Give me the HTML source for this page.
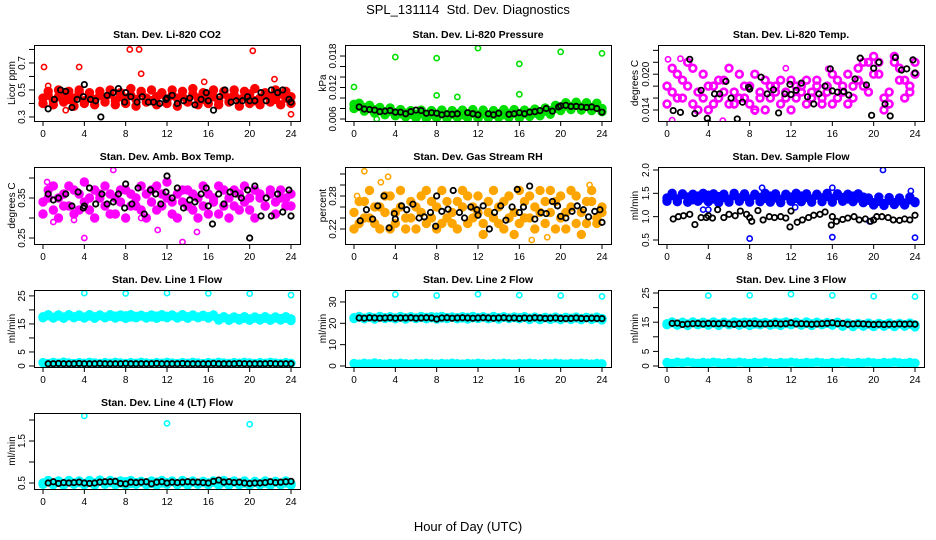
<!DOCTYPE html>
<html><head><meta charset="utf-8">
<style>
html,body{margin:0;padding:0;background:#fff;}
svg{display:block;font-family:"Liberation Sans",Arial,sans-serif;}
</style></head>
<body>
<svg id="chart" width="936" height="540" viewBox="0 0 936 540" xmlns="http://www.w3.org/2000/svg">
<rect width="936" height="540" fill="#fff"/>
<text x="468" y="14" text-anchor="middle" font-size="13">SPL_131114&#160; Std. Dev. Diagnostics</text>
<text x="468" y="531" text-anchor="middle" font-size="13">Hour of Day (UTC)</text>
</svg>
<script>
const bandHours=[0,0.5,1,1.5,2,2.5,3,3.5,4,4.5,5,5.5,6,6.5,7,7.5,8,8.5,9,9.5,10,10.5,11,11.5,12,12.5,13,13.5,14,14.5,15,15.5,16,16.5,17,17.5,18,18.5,19,19.5,20,20.5,21,21.5,22,22.5,23,23.5,24];
const blackHours=[0.5,1,1.5,2,2.5,3,3.5,4,4.5,5,5.5,6,6.5,7,7.5,8,8.5,9,9.5,10,10.5,11,11.5,12,12.5,13,13.5,14,14.5,15,15.5,16,16.5,17,17.5,18,18.5,19,19.5,20,20.5,21,21.5,22,22.5,23,23.5,24];
const xTicks=[0,4,8,12,16,20,24];

// CO2
const co2A=[0.44,0.46,0.42,0.45,0.47,0.43,0.44,0.48,0.42,0.45,0.43,0.46,0.44,0.47,0.42,0.45,0.44,0.46,0.43,0.48,0.44,0.42,0.45,0.47,0.43,0.46,0.44,0.45,0.42,0.47,0.44,0.43,0.46,0.45,0.42,0.47,0.44,0.46,0.43,0.45,0.47,0.42,0.44,0.46,0.45,0.43,0.47,0.44,0.45];
const co2B=[0.40,0.49,0.39,0.50,0.41,0.49,0.38,0.50,0.40,0.48,0.39,0.49,0.41,0.50,0.39,0.48,0.40,0.51,0.38,0.49,0.41,0.50,0.39,0.48,0.40,0.50,0.38,0.49,0.41,0.51,0.39,0.48,0.40,0.50,0.39,0.49,0.41,0.50,0.38,0.49,0.40,0.51,0.39,0.48,0.41,0.50,0.39,0.49,0.40];
const co2OutX=[0.1,3.5,8.4,9.3,9.5,20.3,22.4,15.6,0.5,24,2.2];
const co2OutY=[0.67,0.67,0.8,0.8,0.62,0.79,0.58,0.56,0.53,0.32,0.35];
const co2BlkX=[0.5,1.1,1.7,2.2,2.8,3.3,3.9,4,4.6,5.1,5.6,6.2,6.8,7.3,7.9,8,8.5,9.1,9.6,10.2,10.7,11.3,11.9,12,12.5,13,13.6,14.2,14.7,15.3,15.8,16,16.5,17.1,17.6,18.2,18.7,19.3,19.8,20,20.5,21.1,21.6,22.1,22.7,23.2,23.8,24];
const co2BlkY=[0.36,0.43,0.5,0.49,0.37,0.43,0.45,0.54,0.43,0.42,0.3,0.46,0.48,0.51,0.41,0.48,0.45,0.41,0.45,0.41,0.41,0.40,0.43,0.44,0.46,0.40,0.42,0.44,0.39,0.43,0.48,0.42,0.35,0.45,0.5,0.41,0.42,0.42,0.45,0.42,0.42,0.48,0.42,0.5,0.48,0.5,0.43,0.41];

// Pressure
const prA=[0.0088,0.0084,0.0082,0.0080,0.0078,0.0076,0.0074,0.0075,0.0072,0.0070,0.0071,0.0069,0.0068,0.0070,0.0067,0.0069,0.0068,0.0070,0.0067,0.0069,0.0070,0.0068,0.0069,0.0071,0.0068,0.0070,0.0067,0.0069,0.0070,0.0068,0.0070,0.0071,0.0069,0.0070,0.0072,0.0071,0.0073,0.0075,0.0076,0.0080,0.0083,0.0085,0.0084,0.0086,0.0083,0.0085,0.0082,0.0084,0.0080];
const prB=[0.0080,0.0090,0.0075,0.0086,0.0071,0.0082,0.0068,0.0081,0.0066,0.0078,0.0064,0.0076,0.0062,0.0077,0.0061,0.0076,0.0062,0.0077,0.0061,0.0076,0.0063,0.0077,0.0062,0.0078,0.0061,0.0077,0.0062,0.0076,0.0063,0.0078,0.0063,0.0078,0.0062,0.0077,0.0065,0.0079,0.0066,0.0081,0.0069,0.0086,0.0076,0.0091,0.0078,0.0092,0.0077,0.0091,0.0076,0.0090,0.0074];
const prOutX=[0,4,8,12,16,20,24,8,10,16,2.2];
const prOutY=[0.0121,0.0178,0.0176,0.0195,0.0165,0.0188,0.0185,0.0105,0.0102,0.0107,0.0060];
const prBlkX=[0.5,1,1.5,2,2.5,3,3.5,4,4.5,5,5.5,6,6.5,7,7.5,8,8.5,9,9.5,10,11,11.5,12,13,13.5,14,15,15.5,16,16.5,17,17.5,18,18.6,19.2,19.8,20,20.5,21,21.5,22,22.5,23,23.5,24];
const prBlkY=[0.0083,0.0079,0.0078,0.0077,0.0074,0.0075,0.0076,0.0073,0.0073,0.0070,0.0074,0.0077,0.0076,0.0071,0.0072,0.0071,0.0068,0.0070,0.0069,0.0070,0.0072,0.0070,0.0068,0.0070,0.0068,0.0071,0.0069,0.0070,0.0072,0.0070,0.0073,0.0074,0.0076,0.0080,0.0075,0.0083,0.0085,0.0086,0.0084,0.0084,0.0083,0.0082,0.0083,0.0080,0.0073];

// Li-820 Temp
const ltA=[0.018,0.021,0.016,0.019,0.022,0.015,0.017,0.020,0.014,0.018,0.016,0.019,0.015,0.017,0.020,0.016,0.018,0.014,0.017,0.019,0.016,0.018,0.015,0.017,0.019,0.016,0.018,0.015,0.017,0.019,0.016,0.018,0.015,0.019,0.017,0.020,0.016,0.021,0.018,0.022,0.023,0.020,0.016,0.015,0.022,0.021,0.019,0.017,0.020];
const ltB=[0.015,0.017,0.020,0.016,0.018,0.021,0.014,0.016,0.018,0.015,0.019,0.017,0.021,0.015,0.016,0.018,0.015,0.020,0.016,0.014,0.018,0.017,0.019,0.016,0.014,0.018,0.017,0.019,0.016,0.018,0.015,0.017,0.020,0.016,0.018,0.015,0.018,0.019,0.022,0.017,0.020,0.022,0.014,0.017,0.023,0.019,0.016,0.018,0.022];
const ltOutX=[0.5,5.4,8.5,11.5,15.6,0.1,1.3];
const ltOutY=[0.0123,0.0122,0.0137,0.0210,0.0209,0.0225,0.0226];
const ltBlkX=[0.6,1.3,2.2,2.7,3.3,3.9,4,4.6,5.1,5.7,6.2,6.8,7.3,7.9,8,9.1,9.7,10.3,10.8,11.4,11.9,12,12.5,13,13.6,14.2,14.7,15.3,15.8,16,16.5,17.1,17.6,18.2,18.7,19.3,19.8,20,20.5,21.1,21.6,22.1,22.7,23.2,23.8,24];
const ltBlkY=[0.0139,0.0136,0.0225,0.0134,0.0173,0.0126,0.0118,0.0167,0.0167,0.0188,0.0160,0.0125,0.0153,0.0178,0.0175,0.0195,0.0167,0.0174,0.0135,0.0167,0.0183,0.0166,0.0173,0.0185,0.0162,0.0150,0.0167,0.0180,0.0209,0.0172,0.0170,0.0171,0.0165,0.0192,0.0227,0.0182,0.0131,0.0210,0.0220,0.0150,0.0130,0.0228,0.0207,0.0209,0.0224,0.0202];

// Amb box temp
const abA=[0.34,0.37,0.32,0.35,0.33,0.38,0.31,0.36,0.34,0.32,0.37,0.35,0.33,0.36,0.31,0.34,0.37,0.33,0.35,0.32,0.36,0.34,0.38,0.33,0.35,0.31,0.36,0.34,0.37,0.32,0.35,0.33,0.36,0.34,0.31,0.37,0.35,0.33,0.36,0.34,0.32,0.37,0.35,0.33,0.36,0.34,0.37,0.35,0.33];
const abB=[0.31,0.35,0.38,0.30,0.36,0.33,0.37,0.32,0.39,0.35,0.30,0.36,0.38,0.31,0.35,0.37,0.30,0.36,0.33,0.38,0.30,0.37,0.32,0.36,0.39,0.34,0.30,0.37,0.33,0.36,0.30,0.38,0.31,0.35,0.38,0.33,0.30,0.37,0.32,0.38,0.35,0.30,0.36,0.33,0.37,0.31,0.35,0.33,0.36];
const abOutX=[1,4,6.8,11.1,13.5,14.9,3,9.5,0.4];
const abOutY=[0.29,0.25,0.42,0.27,0.24,0.265,0.295,0.30,0.39];
const abBlkX=[0.5,1,1.5,2.2,2.8,3.4,3.9,4,4.5,5.1,5.7,6.2,6.8,7.3,7.9,8,8.6,9.2,9.8,10.4,10.9,11.4,11.9,12,12.5,13,13.6,14.2,14.7,15.3,15.8,16,16.4,17,17.5,18.1,18.6,19.2,19.8,20,20.5,21.1,21.6,22.1,22.7,23.2,23.8,24];
const abBlkY=[0.36,0.345,0.35,0.36,0.33,0.365,0.325,0.33,0.375,0.335,0.36,0.335,0.34,0.36,0.325,0.385,0.335,0.375,0.31,0.37,0.36,0.335,0.365,0.405,0.35,0.375,0.325,0.345,0.34,0.36,0.375,0.33,0.285,0.36,0.335,0.365,0.36,0.35,0.37,0.25,0.38,0.305,0.35,0.305,0.36,0.315,0.37,0.305];

// Gas stream RH
const rhA=[0.25,0.23,0.27,0.24,0.26,0.22,0.25,0.28,0.23,0.26,0.24,0.27,0.22,0.25,0.29,0.24,0.26,0.23,0.27,0.25,0.22,0.26,0.28,0.24,0.25,0.23,0.27,0.24,0.26,0.22,0.28,0.25,0.23,0.27,0.24,0.26,0.29,0.23,0.25,0.27,0.24,0.22,0.26,0.28,0.25,0.23,0.27,0.24,0.26];
const rhB=[0.22,0.27,0.24,0.29,0.23,0.26,0.28,0.22,0.25,0.29,0.22,0.24,0.26,0.28,0.23,0.27,0.22,0.29,0.24,0.23,0.27,0.29,0.23,0.26,0.28,0.21,0.25,0.29,0.23,0.27,0.24,0.21,0.29,0.24,0.28,0.22,0.25,0.27,0.29,0.22,0.28,0.25,0.29,0.23,0.21,0.27,0.29,0.23,0.25];
const rhOutX=[1,3.3,0.3,17.2,18.7,2.6,22.8];
const rhOutY=[0.325,0.315,0.28,0.20,0.205,0.305,0.30];
const rhBlkX=[0.6,1.2,1.8,2.3,2.9,3.4,3.9,4,4.6,5.1,5.7,6.3,6.8,7.4,7.9,8,8.5,9.1,9.6,10.2,10.7,11.3,11.9,12,12.5,13.1,13.6,14.2,14.7,15.3,15.8,16,16.4,17,17.5,18.1,18.6,19.2,19.7,20,20.5,21.1,21.6,22.2,22.7,23.3,23.8,24];
const rhBlkY=[0.235,0.255,0.238,0.262,0.28,0.222,0.248,0.238,0.262,0.255,0.265,0.24,0.242,0.25,0.225,0.28,0.252,0.256,0.29,0.25,0.24,0.26,0.255,0.245,0.262,0.22,0.25,0.262,0.236,0.26,0.292,0.25,0.26,0.298,0.238,0.25,0.248,0.27,0.262,0.243,0.24,0.252,0.262,0.255,0.242,0.252,0.255,0.232];

// Sample flow
const sfA=[1.40,1.45,1.38,1.47,1.42,1.36,1.44,1.40,1.46,1.38,1.43,1.41,1.37,1.45,1.40,1.43,1.38,1.46,1.41,1.39,1.44,1.40,1.37,1.45,1.42,1.39,1.44,1.41,1.38,1.46,1.40,1.43,1.39,1.45,1.41,1.38,1.44,1.40,1.42,1.35,1.30,1.33,1.28,1.35,1.30,1.34,1.29,1.36,1.32];
const sfB=[1.33,1.50,1.32,1.49,1.31,1.48,1.33,1.50,1.32,1.49,1.30,1.48,1.31,1.50,1.33,1.49,1.31,1.48,1.32,1.50,1.31,1.49,1.30,1.48,1.33,1.50,1.32,1.49,1.31,1.48,1.32,1.50,1.31,1.49,1.33,1.48,1.32,1.49,1.30,1.40,1.25,1.42,1.24,1.41,1.26,1.40,1.25,1.42,1.30];
const sfOutX=[8,16,24,20.9,9.2,16,23.6,3.5,4,12.4,19.6];
const sfOutY=[0.53,0.56,0.55,2.0,1.62,1.62,1.55,1.15,1.15,1.2,0.9];
const sfBlkX=[0.6,1.1,1.6,2.2,2.7,3.3,3.8,4,4.4,4.9,5.5,6,6.6,7.1,7.7,8,8.2,8.8,9.3,9.9,10.4,11,11.5,11.9,12,12.6,13.1,13.7,14.2,14.8,15.3,15.9,16,16.4,17,17.5,18.1,18.6,19.2,19.7,20,20.3,20.8,21.4,21.9,22.5,23,23.5,24];
const sfBlkY=[0.95,1.0,1.02,1.05,0.83,0.98,0.98,1.02,0.97,1.15,0.98,1.05,1.02,1.12,1.05,0.98,0.9,1.13,0.93,1.0,0.98,1.0,0.97,0.78,1.12,0.88,0.93,0.98,1.03,1.05,1.1,0.82,1.0,0.9,0.94,0.97,1.0,0.93,0.95,0.9,0.93,1.0,1.0,0.98,0.93,0.92,0.95,0.93,1.03];

// Line flows
const lowBand=[1.2,0.9,1.3,1.0,1.4,1.1,0.9,1.2,1.0,1.3,1.1,0.9,1.2,1.0,1.3,1.1,0.9,1.2,1.0,1.3,1.1,0.9,1.2,1.0,1.3,1.1,0.9,1.2,1.0,1.3,1.1,0.9,1.2,1.0,1.3,1.1,0.9,1.2,1.0,1.3,1.1,0.9,1.2,1.0,1.3,1.1,0.9,1.2,1.0];
const l1A=[17.6,17.9,17.4,17.8,17.5,17.9,17.6,17.7,17.5,17.8,17.6,17.9,17.5,17.7,17.8,17.6,17.9,17.5,17.7,17.8,17.6,17.5,17.8,17.6,17.7,17.9,17.5,17.7,17.6,17.8,17.5,17.7,17.6,17.8,16.9,17.2,16.8,17.1,16.9,17.0,16.8,17.1,16.9,17.0,16.8,17.1,16.9,17.0,16.8];
const l1B=[17.2,18.3,17.1,18.2,17.0,18.3,17.2,18.2,17.1,18.3,17.0,18.2,17.2,18.3,17.1,18.2,17.0,18.3,17.2,18.1,17.1,18.2,17.0,18.3,17.2,18.2,17.1,18.3,17.0,18.2,17.2,18.1,17.1,18.2,16.4,17.6,16.3,17.5,16.4,17.6,16.3,17.5,16.4,17.6,16.3,17.5,16.4,17.6,16.2];
const l1Blk=[0.8,0.8,0.9,0.8,0.8,0.8,0.9,0.8,0.8,0.8,0.9,0.8,0.8,0.8,0.8,0.9,0.8,0.8,0.8,0.8,0.8,0.9,0.8,0.8,0.8,0.8,0.9,0.8,0.8,0.8,0.8,0.8,0.9,0.8,0.8,0.8,0.8,0.9,0.8,0.8,0.8,0.8,0.8,0.9,0.8,0.8,0.8,0.8];
const l1OutX=[4,8,12,16,20,24];
const l1OutY=[26.0,25.9,26.0,25.9,25.8,25.3];
const l2A=[22.6,22.9,22.4,22.8,22.5,22.9,22.6,22.7,22.5,22.8,22.6,22.9,22.5,22.7,22.8,22.6,22.9,22.5,22.7,22.8,22.6,22.5,22.8,22.6,22.7,22.9,22.5,22.7,22.6,22.8,22.5,22.7,22.6,22.8,22.4,22.7,22.3,22.6,22.4,22.5,22.3,22.6,22.4,22.5,22.3,22.6,22.4,22.5,22.3];
const l2B=[22.2,23.2,22.1,23.1,22.0,23.2,22.2,23.1,22.1,23.2,22.0,23.1,22.2,23.2,22.1,23.1,22.0,23.2,22.2,23.0,22.1,23.1,22.0,23.2,22.2,23.1,22.1,23.2,22.0,23.1,22.2,23.0,22.1,23.1,21.8,22.9,21.7,22.8,21.8,22.9,21.7,22.8,21.8,22.9,21.7,22.8,21.8,22.9,21.6];
const l2Blk=[22.5,22.4,22.6,22.5,22.4,22.5,22.6,22.4,22.5,22.5,22.6,22.4,22.5,22.6,22.5,22.0,22.5,22.6,22.4,22.5,22.6,22.5,22.4,22.5,22.6,22.5,22.4,22.5,22.6,22.4,22.5,22.3,22.5,22.4,22.6,22.5,22.3,22.4,22.5,22.3,22.2,22.3,22.5,22.3,22.2,22.4,22.3,22.2];
const l2OutX=[4,8,12,16,20,24];
const l2OutY=[33.5,33.0,33.6,33.2,33.0,32.6];
const l3A=[14.5,14.8,14.3,14.7,14.4,14.8,14.5,14.6,14.4,14.7,14.5,14.8,14.4,14.6,14.7,14.5,14.8,14.4,14.6,14.7,14.5,14.4,14.7,14.5,14.6,14.8,14.4,14.6,14.5,14.7,14.4,14.6,14.5,14.7,14.2,14.5,14.1,14.4,14.2,14.3,14.1,14.4,14.2,14.3,14.1,14.4,14.2,14.3,14.1];
const l3B=[14.1,15.1,14.0,15.0,13.9,15.1,14.1,15.0,14.0,15.1,13.9,15.0,14.1,15.1,14.0,15.0,13.9,15.1,14.1,14.9,14.0,15.0,13.9,15.1,14.1,15.0,14.0,15.1,13.9,15.0,14.1,14.9,14.0,15.0,13.6,14.7,13.5,14.6,13.6,14.7,13.5,14.6,13.6,14.7,13.5,14.6,13.6,14.7,13.4];
const l3Blk=[14.6,14.7,14.2,14.4,14.5,14.6,14.4,14.6,14.5,14.5,14.6,14.4,14.3,14.5,14.4,14.6,14.5,14.4,14.4,14.5,14.6,14.4,14.5,14.8,14.4,14.5,14.4,14.3,14.4,14.5,14.6,14.8,14.5,14.6,14.3,14.4,14.5,14.4,14.3,14.2,14.3,14.2,14.3,14.3,14.4,14.3,14.4,14.3];
const l3OutX=[4,8,12,16,20,24];
const l3OutY=[24.1,24.2,24.6,24.2,23.9,23.8];
const l4A=[0.50,0.53,0.48,0.52,0.49,0.53,0.50,0.51,0.49,0.52,0.50,0.54,0.49,0.51,0.52,0.50,0.53,0.49,0.51,0.52,0.50,0.49,0.52,0.50,0.51,0.53,0.49,0.51,0.50,0.52,0.49,0.51,0.50,0.52,0.49,0.51,0.48,0.52,0.49,0.50,0.48,0.51,0.49,0.50,0.48,0.51,0.49,0.50,0.48];
const l4B=[0.47,0.56,0.46,0.55,0.45,0.56,0.47,0.55,0.46,0.56,0.45,0.57,0.47,0.56,0.46,0.55,0.45,0.56,0.47,0.54,0.46,0.55,0.45,0.56,0.47,0.55,0.46,0.56,0.45,0.55,0.47,0.54,0.46,0.55,0.45,0.56,0.45,0.55,0.46,0.55,0.45,0.54,0.46,0.55,0.45,0.54,0.46,0.55,0.45];
const l4Blk=[0.50,0.53,0.49,0.51,0.50,0.51,0.52,0.50,0.49,0.50,0.52,0.53,0.53,0.54,0.49,0.48,0.52,0.51,0.52,0.53,0.48,0.52,0.53,0.50,0.52,0.51,0.52,0.53,0.52,0.52,0.51,0.50,0.54,0.57,0.52,0.53,0.51,0.52,0.50,0.49,0.50,0.50,0.51,0.53,0.51,0.52,0.53,0.54];
const l4OutX=[4,12,20];
const l4OutY=[2.10,1.92,1.90];

const NS='http://www.w3.org/2000/svg';
const svg=document.getElementById('chart');
function mk(tag,attrs,parent){const e=document.createElementNS(NS,tag);for(const k in attrs)e.setAttribute(k,attrs[k]);(parent||svg).appendChild(e);return e;}

const panels=[
 {name:'co2',title:'Stan. Dev. Li-820 CO2',ylab:'Licor ppm',col:0,row:0,ymin:0.270,ymax:0.833,ticks:[0.3,0.4,0.5,0.6,0.7,0.8],labels:[0.3,0.5,0.7],fmt:1,color:'#ff0000',fill:true,
  bands:[[bandHours,co2A],[bandHours,co2B]],out:[co2OutX,co2OutY],blk:[co2BlkX,co2BlkY]},
 {name:'pressure',title:'Stan. Dev. Li-820 Pressure',ylab:'kPa',col:1,row:0,ymin:0.00562,ymax:0.0201,ticks:[0.006,0.008,0.010,0.012,0.014,0.016,0.018],labels:[0.006,0.012,0.018],fmt:3,color:'#00e000',fill:true,
  bands:[[bandHours,prA],[bandHours,prB]],out:[prOutX,prOutY],blk:[prBlkX,prBlkY]},
 {name:'li820-temp',title:'Stan. Dev. Li-820 Temp.',ylab:'degrees C',col:2,row:0,ymin:0.01215,ymax:0.0249,ticks:[0.014,0.016,0.018,0.020,0.022,0.024],labels:[0.014,0.020],fmt:3,color:'#ff00ff',fill:false,
  bands:[[bandHours,ltA],[bandHours,ltB]],out:[ltOutX,ltOutY],blk:[ltBlkX,ltBlkY]},
 {name:'amb-box-temp',title:'Stan. Dev. Amb. Box Temp.',ylab:'degrees C',col:0,row:1,ymin:0.235,ymax:0.4275,ticks:[0.25,0.30,0.35,0.40],labels:[0.25,0.35],fmt:2,color:'#ff00ff',fill:true,
  bands:[[bandHours,abA],[bandHours,abB]],out:[abOutX,abOutY],blk:[abBlkX,abBlkY]},
 {name:'gas-stream-rh',title:'Stan. Dev. Gas Stream RH',ylab:'percent',col:1,row:1,ymin:0.1927,ymax:0.3327,ticks:[0.22,0.24,0.26,0.28,0.30,0.32],labels:[0.22,0.28],fmt:2,color:'#ffa500',fill:true,
  bands:[[bandHours,rhA],[bandHours,rhB]],out:[rhOutX,rhOutY],blk:[rhBlkX,rhBlkY]},
 {name:'sample-flow',title:'Stan. Dev. Sample Flow',ylab:'ml/min',col:2,row:1,ymin:0.414,ymax:2.064,ticks:[0.5,1.0,1.5,2.0],labels:[0.5,1.0,1.5,2.0],fmt:1,color:'#0000ff',fill:true,
  bands:[[bandHours,sfA],[bandHours,sfB]],out:[sfOutX,sfOutY],blk:[sfBlkX,sfBlkY]},
 {name:'line1-flow',title:'Stan. Dev. Line 1 Flow',ylab:'ml/min',col:0,row:2,ymin:-0.36,ymax:27.1,ticks:[0,5,10,15,20,25],labels:[0,5,15,25],fmt:0,color:'#00ffff',fill:true,
  bands:[[bandHours,l1A],[bandHours,l1B],[bandHours,lowBand]],out:[l1OutX,l1OutY],blk:[blackHours,l1Blk]},
 {name:'line2-flow',title:'Stan. Dev. Line 2 Flow',ylab:'ml/min',col:1,row:2,ymin:-0.47,ymax:35.6,ticks:[0,10,20,30],labels:[0,10,20,30],fmt:0,color:'#00ffff',fill:true,
  bands:[[bandHours,l2A],[bandHours,l2B],[bandHours,lowBand]],out:[l2OutX,l2OutY],blk:[blackHours,l2Blk]},
 {name:'line3-flow',title:'Stan. Dev. Line 3 Flow',ylab:'ml/min',col:2,row:2,ymin:-0.34,ymax:26.03,ticks:[0,5,10,15,20,25],labels:[0,5,15,25],fmt:0,color:'#00ffff',fill:true,
  bands:[[bandHours,l3A],[bandHours,l3B],[bandHours,lowBand]],out:[l3OutX,l3OutY],blk:[blackHours,l3Blk]},
 {name:'line4-flow',title:'Stan. Dev. Line 4 (LT) Flow',ylab:'ml/min',col:0,row:3,ymin:0.357,ymax:2.167,ticks:[0.5,1.0,1.5,2.0],labels:[0.5,1.5],fmt:1,color:'#00ffff',fill:true,
  bands:[[bandHours,l4A],[bandHours,l4B]],out:[l4OutX,l4OutY],blk:[blackHours,l4Blk]}
];
const colL=[34,345,658], colYlab=[11,322,634];
const rowT=[45,167,290,413], rowB=[121,244,367,489];
const W=266;

panels.forEach(p=>{
  const L=colL[p.col], T=rowT[p.row], B=rowB[p.row];
  const g=mk('g',{});
  
  
  const xs=h=>L+9+h*(W-18)/24;
  const ys=v=>B-(v-p.ymin)/(p.ymax-p.ymin)*(B-T);
  const cp='clip-'+p.name;
  const cl=mk('clipPath',{id:cp},g); mk('rect',{x:L,y:T,width:W,height:B-T},cl);
  const t=mk('text',{x:L+W/2,y:T-7,'text-anchor':'middle','font-size':'10.5','font-weight':'bold'},g);
  t.textContent=p.title;
  
  
  const yl=mk('text',{x:colYlab[p.col],y:(T+B)/2,'text-anchor':'middle','font-size':'10',transform:`rotate(-90 ${colYlab[p.col]} ${(T+B)/2})`,dy:'4'},g);
  yl.textContent=p.ylab;
  
  
  const pts=mk('g',{'clip-path':`url(#${cp})`,fill:'none'},g);
  
  
  p.bands.forEach(([hx,vy])=>{
    hx.forEach((h,i)=>{const c=mk('circle',{cx:xs(h),cy:ys(vy[i]),r:3.4,stroke:p.color,'stroke-width':2.6,fill:p.fill?p.color:'none'},pts);
      
      });
  });
  p.out[0].forEach((h,i)=>{const c=mk('circle',{cx:xs(h),cy:ys(p.out[1][i]),r:2.6,stroke:p.color,'stroke-width':1.6},pts);
    
    });
  p.blk[0].forEach((h,i)=>{const c=mk('circle',{cx:xs(h),cy:ys(p.blk[1][i]),r:2.7,stroke:'#000','stroke-width':1.8},pts);
    
    });
  mk('rect',{x:L+0.5,y:T+0.5,width:W,height:B-T,fill:'none',stroke:'#000','stroke-width':1},g);
  xTicks.forEach(h=>{
    mk('line',{x1:xs(h),x2:xs(h),y1:B,y2:B+5,stroke:'#000'},g);
    const tx=mk('text',{x:xs(h),y:B+16,'text-anchor':'middle','font-size':'10'},g);
    tx.textContent=h;
    
    
  });
  p.ticks.forEach(v=>{
    mk('line',{x1:L-5,x2:L,y1:ys(v),y2:ys(v),stroke:'#000'},g);
  });
  p.labels.forEach(v=>{
    const lx=L-9, ly=ys(v);
    const ty=mk('text',{x:lx,y:ly,'text-anchor':'middle','font-size':'10',transform:`rotate(-90 ${lx} ${ly})`},g);
    ty.textContent=v.toFixed(p.fmt);
    
    
  });
});
</script>
</body></html>
